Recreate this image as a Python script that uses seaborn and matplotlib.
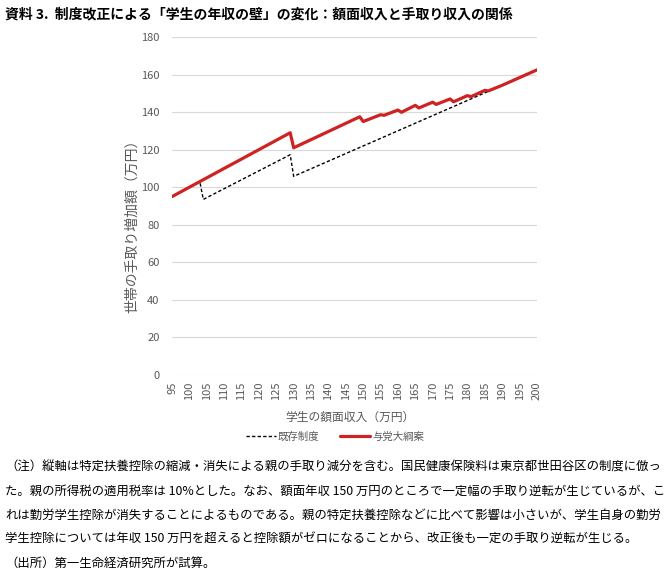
import matplotlib
matplotlib.use("Agg")
import matplotlib.pyplot as plt
import seaborn as sns
import pandas as pd
from matplotlib.lines import Line2D

# ---- data ----
income_existing = [95, 103, 104, 129, 130, 190, 200]
takehome_existing = [95, 103, 93.5, 117.3, 105.8, 154.3, 162.5]

income_proposal = [95, 129, 130, 149, 150, 155, 156, 160, 161, 165, 166,
                   170, 171, 175, 176, 180, 181, 185, 186, 190, 200]
takehome_proposal = [95, 129, 121, 137.5, 135.0, 138.6, 138.3, 141.1, 139.9,
                     143.6, 142.2, 145.3, 144.1, 147.0, 145.5, 148.8, 148.2,
                     151.6, 151.3, 154.3, 162.5]

series_names = ["既存制度", "与党大綱案"]
x_ticks = list(range(95, 201, 5))
y_ticks = list(range(0, 181, 20))

title = "資料 3.  制度改正による「学生の年収の壁」の変化：額面収入と手取り収入の関係"
xlabel = "学生の額面収入（万円）"
ylabel = "世帯の手取り増加額（万円）"
notes = [
    "（注）縦軸は特定扶養控除の縮減・消失による親の手取り減分を含む。国民健康保険料は東京都世田谷区の制度に倣っ",
    "た。親の所得税の適用税率は 10%とした。なお、額面年収 150 万円のところで一定幅の手取り逆転が生じているが、こ",
    "れは勤労学生控除が消失することによるものである。親の特定扶養控除などに比べて影響は小さいが、学生自身の勤労",
    "学生控除については年収 150 万円を超えると控除額がゼロになることから、改正後も一定の手取り逆転が生じる。",
    "（出所）第一生命経済研究所が試算。",
]

df_exist = pd.DataFrame({"x": income_existing, "y": takehome_existing})
df_prop = pd.DataFrame({"x": income_proposal, "y": takehome_proposal})

sns.set_theme(style="white")
plt.rcParams["font.family"] = ["Noto Sans CJK JP", "DejaVu Sans"]

W, H = 671, 572
fig = plt.figure(figsize=(W / 100, H / 100), dpi=100)
ax = fig.add_axes([172 / W, 1 - 375 / H, (537 - 172) / W, (375 - 37) / H])

red = "#cf2222"
gray = "#595959"

sns.lineplot(data=df_exist, x="x", y="y", ax=ax, color="black", lw=1.0,
             linestyle=(0, (2.4, 1.6)), estimator=None, sort=False, zorder=3)
sns.lineplot(data=df_prop, x="x", y="y", ax=ax, color=red, lw=2.3,
             estimator=None, sort=False, zorder=4)

ax.set_xlim(95, 200)
ax.set_ylim(0, 180)
ax.set_xticks(x_ticks)
ax.set_xticklabels([str(t) for t in x_ticks], rotation=90)
ax.set_yticks(y_ticks)
ax.tick_params(axis="both", length=0, labelsize=8, labelcolor=gray)
ax.tick_params(axis="x", pad=5)
ax.tick_params(axis="y", pad=9)
ax.grid(axis="y", color="#d9d9d9", lw=0.8)
ax.grid(axis="x", visible=False)
for s in ax.spines.values():
    s.set_visible(False)
ax.set_xlabel("")
ax.set_ylabel("")

fig.text(132 / W, 1 - 223 / H, ylabel, rotation=90, ha="center", va="center",
         fontsize=10, color=gray)
fig.text(350 / W, 1 - 417 / H, xlabel, ha="center", va="center",
         fontsize=8.5, color=gray)

handles = [Line2D([0], [0], color="black", lw=1.0, linestyle=(0, (2.4, 1.6))),
           Line2D([0], [0], color=red, lw=2.3)]
leg = fig.legend(handles, series_names, loc="center", ncol=2,
                 bbox_to_anchor=(335 / W, 1 - 437 / H), frameon=False,
                 fontsize=7.5, handlelength=2.9, handletextpad=0.2,
                 columnspacing=2.0)
for t in leg.get_texts():
    t.set_color(gray)

fig.text(5 / W, 1 - 14 / H, title, ha="left", va="center", fontsize=10,
         fontweight="bold", color="black")

for i, line in enumerate(notes):
    fig.text(5 / W, 1 - (467 + 24 * i) / H, line, ha="left", va="center",
             fontsize=8.9, color="black")

fig.savefig("out.png", dpi=100)
